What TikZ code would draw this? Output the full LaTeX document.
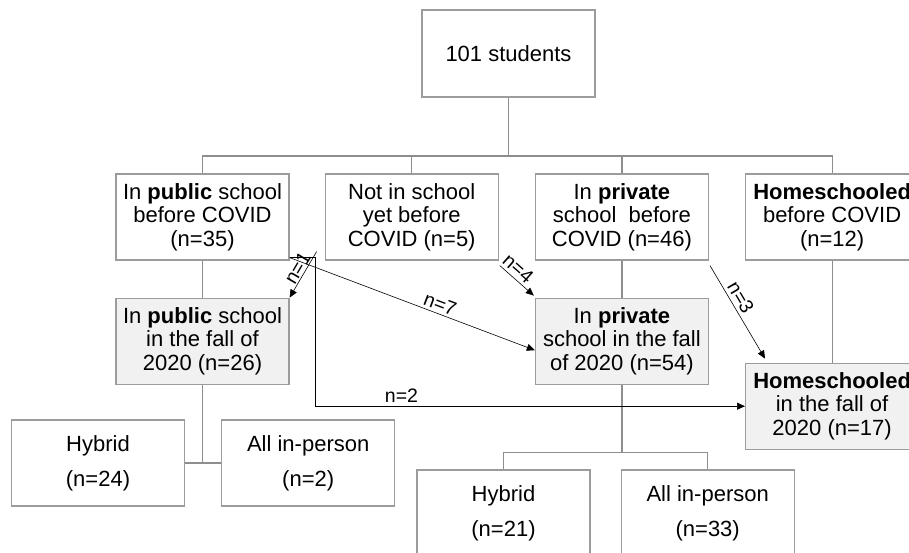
\documentclass[tikz,border=0pt]{standalone}
\usepackage{fontspec}
\setmainfont{Liberation Sans}
\usepackage{xcolor}
\usetikzlibrary{arrows.meta, positioning, calc}
\definecolor{boxgray}{HTML}{9c9c9c}
\definecolor{linkgray}{HTML}{8e8e8e}
\definecolor{fallfill}{HTML}{f1f1f1}

\begin{document}
\begin{tikzpicture}[
  x=1pt, y=-1pt,
  font=\fontsize{22}{23.5}\selectfont,
  every node/.style={align=center},
  box/.style={rectangle, draw=boxgray, line width=1.2pt, inner sep=1pt,
    minimum width=173pt, minimum height=86pt},
  fallbox/.style={box, fill=fallfill},
  modebox/.style={box, font=\fontsize{22}{35}\selectfont},
  link/.style={draw=linkgray, line width=1.2pt},
  arrow/.style={-{Triangle[length=8pt, width=7pt]}, line width=0.6pt, color=black},
  lbl/.style={font=\fontsize{19.5}{19.5}\selectfont, sloped, above, inner sep=3pt},
]
  \useasboundingbox (0,0) rectangle (909,552);

  \node[box, minimum height=87pt] (total) at (508.5,53.5) {101 students};

  % before COVID
  \node[box] (pub) at (202.5,217) {In \textbf{public} school\\before COVID\\(n=35)};
  \node[box, right=35pt of pub] (nis) {Not in school\\yet before\\COVID (n=5)};
  \node[box, right=36pt of nis] (priv) {In \textbf{private}\\school~ before\\COVID (n=46)};
  \node[box, right=36pt of priv] (home) {\textbf{Homeschooled}\\before COVID\\(n=12)};

  % fall 2020
  \node[fallbox, below=37pt of pub] (pubfall) {In \textbf{public} school\\in the fall of\\2020 (n=26)};
  \node[fallbox, below=37pt of priv] (privfall) {In \textbf{private}\\school in the fall\\of 2020 (n=54)};
  \node[fallbox, below=102pt of home] (homefall) {\textbf{Homeschooled}\\in the fall of\\2020 (n=17)};

  % modes
  \node[modebox] (pubhyb) at (98,463) {Hybrid\\(n=24)};
  \node[modebox, right=36pt of pubhyb] (pubinp) {All in-person\\(n=2)};
  \node[modebox] (privhyb) at (503.5,513) {Hybrid\\(n=21)};
  \node[modebox, right=30pt of privhyb] (privinp) {All in-person\\(n=33)};

  \coordinate (bus) at (508.5,156);
  \coordinate (privbus) at ($(privfall.south)+(0,68)$);
  \coordinate (n1start) at ($(nis.south west)+(-8,-9)$);

  \draw[link] (total) -- (bus);
  \draw[link] (pub.north) |- (bus) -| (home.north);
  \draw[link] (nis.north) -- (nis.north |- bus);
  \draw[link] (priv.north) -- (priv.north |- bus);
  \draw[link] (pub) -- (pubfall);
  \draw[link] (priv) -- (privfall);
  \draw[link] (home) -- (homefall);
  \draw[link] (pubfall.south) -- (pubfall.south |- pubhyb.east);
  \draw[link] (pubhyb) -- (pubinp);
  \draw[link] (privfall) -- (privbus);
  \draw[link] (privhyb.north) |- (privbus) -| (privinp.north);

  \draw[arrow] ([yshift=3pt]pub.south east) -- node[lbl, pos=0.6] {n=7} ([yshift=-9pt]privfall.west);
  \draw[arrow] ([yshift=3pt]pub.south east) -- ++(26,0) |- node[lbl, pos=0.6] {n=2} (homefall.west);
  \draw[arrow] (n1start) -- node[lbl, pos=0.45, inner sep=1pt] {n=1} (pubfall.north east);
  \draw[arrow] ([xshift=1pt, yshift=-5pt]nis.south east) -- node[lbl, pos=0.35] {n=4} ([xshift=-1pt, yshift=2pt]privfall.north west);
  \draw[arrow] ([xshift=1pt, yshift=-5pt]priv.south east) -- node[lbl, pos=0.4] {n=3} ([xshift=20pt, yshift=4pt]homefall.north west);
\end{tikzpicture}
\end{document}
